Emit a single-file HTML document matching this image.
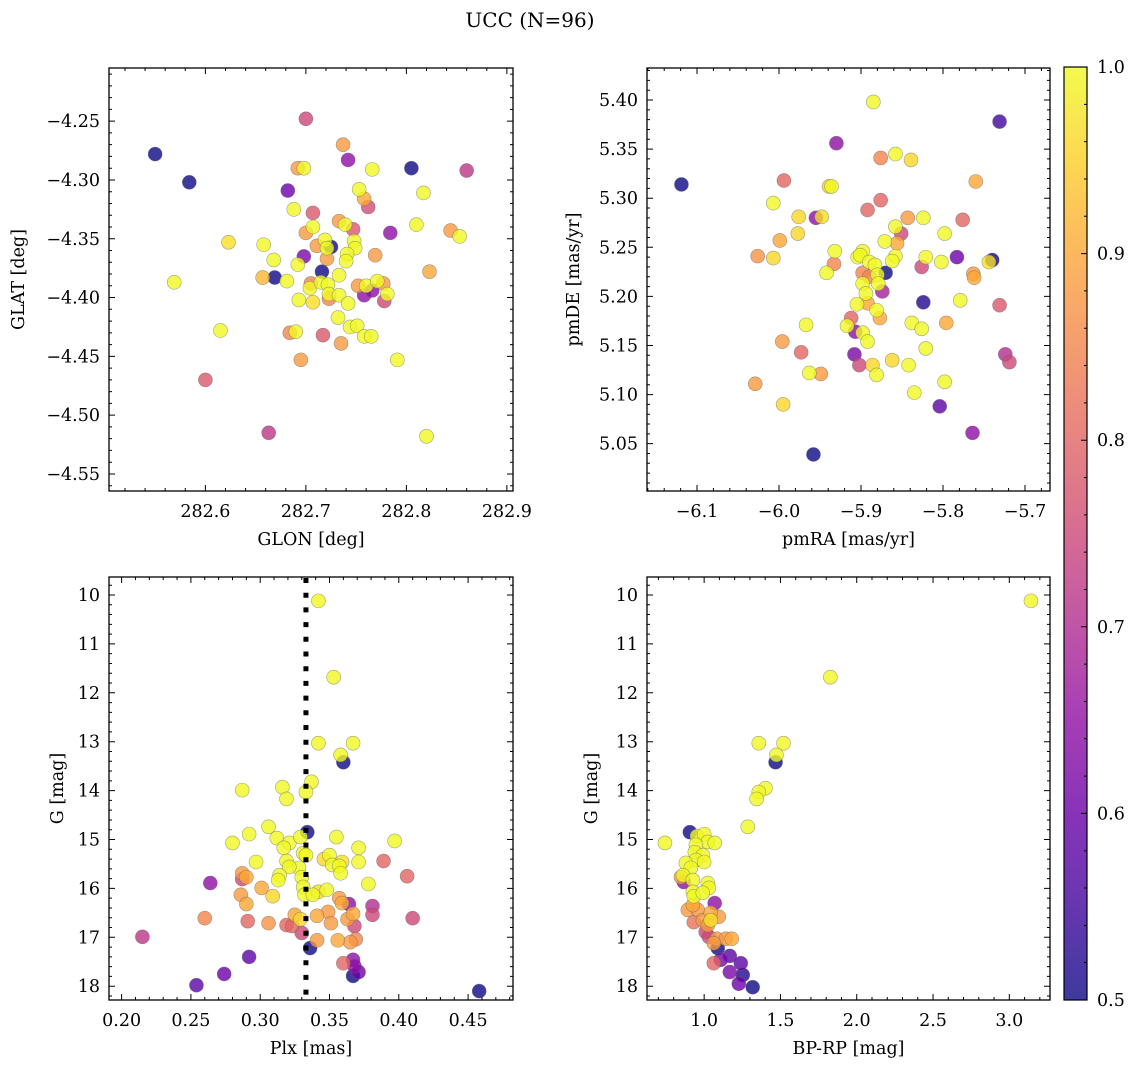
<!DOCTYPE html>
<html><head><meta charset="utf-8"><style>
body{margin:0;background:#fff;}
svg{display:block;font-family:"DejaVu Serif","Liberation Serif",serif;}
</style></head><body>
<svg id="fig" width="1136" height="1067" viewBox="0 0 1136 1067" xmlns="http://www.w3.org/2000/svg">
<text x="530" y="27" font-size="20" text-anchor="middle">UCC (N=96)</text>
</svg>
<script>
// Panel 1: GLON vs GLAT
const glon1=[282.550,282.584,282.569,282.615,282.600,282.623,282.658,282.657,282.669,282.668,282.663,282.682,282.692,282.698,282.700,282.742,282.737,282.766,282.805,282.817,282.688,282.707,282.733,282.739,282.747,282.753,282.758,282.762,282.707,282.700,282.784,282.810,282.711,282.719,282.721,282.725,282.721,282.748,282.749,282.741,282.740,282.769,282.698,282.692,282.716,282.681,282.733,282.705,282.704,282.715,282.722,282.723,282.733,282.742,282.693,282.707,282.723,282.752,282.760,282.758,282.766,282.771,282.777,282.781,282.778,282.823,282.732,282.744,282.751,282.758,282.765,282.684,282.690,282.717,282.735,282.695,282.791,282.844,282.853,282.860,282.820];
const glat1=[-4.278,-4.302,-4.387,-4.428,-4.470,-4.353,-4.355,-4.383,-4.383,-4.368,-4.515,-4.309,-4.290,-4.290,-4.248,-4.283,-4.270,-4.291,-4.290,-4.311,-4.325,-4.328,-4.335,-4.338,-4.342,-4.308,-4.316,-4.323,-4.340,-4.345,-4.345,-4.338,-4.356,-4.351,-4.358,-4.357,-4.367,-4.352,-4.358,-4.363,-4.369,-4.364,-4.365,-4.372,-4.378,-4.386,-4.381,-4.388,-4.392,-4.387,-4.389,-4.397,-4.398,-4.405,-4.402,-4.404,-4.401,-4.390,-4.390,-4.398,-4.394,-4.386,-4.388,-4.397,-4.403,-4.378,-4.417,-4.425,-4.424,-4.433,-4.433,-4.430,-4.429,-4.432,-4.439,-4.453,-4.453,-4.343,-4.348,-4.292,-4.518];
const prob1=[.5,.5,1,1,.78,.97,1,.92,.5,1,.72,.6,.88,1,.75,.65,.88,1,.5,1,1,.78,.88,1,.78,1,.9,.76,1,.88,.65,1,.88,1,1,.5,.88,1,1,1,1,.88,.62,1,.5,1,1,.85,1,1,1,1,1,1,1,.97,.85,.88,1,.65,.65,1,.88,1,.75,.9,1,1,1,1,1,.85,1,.78,.88,.88,1,.88,1,.72,1];
// Panel 2: pmRA vs pmDE
const pmra2=[-5.885,-5.731,-5.930,-5.876,-5.858,-5.839,-5.994,-5.760,-5.939,-5.936,-6.007,-5.876,-5.892,-5.976,-5.955,-5.948,-5.843,-5.824,-5.776,-5.977,-5.999,-5.858,-5.851,-5.798,-5.871,-5.856,-5.932,-6.026,-6.007,-5.898,-5.904,-5.901,-5.890,-5.883,-5.858,-5.862,-5.821,-5.826,-5.802,-5.783,-5.740,-5.744,-5.933,-5.942,-5.898,-5.890,-5.870,-5.880,-5.879,-5.898,-5.874,-5.763,-5.762,-5.894,-5.824,-5.779,-5.731,-5.905,-5.892,-5.881,-5.877,-5.912,-5.917,-5.907,-5.898,-5.892,-5.838,-5.826,-5.796,-5.967,-5.996,-5.973,-5.821,-5.908,-5.902,-5.886,-5.881,-5.862,-5.842,-5.724,-5.719,-5.963,-5.949,-6.029,-5.798,-5.835,-5.995,-5.804,-5.764,-5.958,-6.119];
const pmde2=[5.398,5.378,5.356,5.341,5.345,5.339,5.318,5.317,5.312,5.312,5.295,5.298,5.288,5.281,5.280,5.281,5.280,5.280,5.278,5.264,5.257,5.271,5.264,5.264,5.256,5.254,5.246,5.241,5.239,5.246,5.240,5.242,5.235,5.232,5.241,5.236,5.240,5.230,5.235,5.240,5.237,5.235,5.233,5.224,5.224,5.220,5.224,5.222,5.213,5.213,5.205,5.223,5.219,5.203,5.194,5.196,5.191,5.192,5.193,5.186,5.178,5.178,5.170,5.164,5.163,5.154,5.173,5.167,5.173,5.171,5.154,5.143,5.147,5.141,5.130,5.130,5.120,5.135,5.130,5.141,5.133,5.122,5.121,5.111,5.113,5.102,5.090,5.088,5.061,5.039,5.314];
const prob2=[1,.55,.65,.85,1,.96,.8,.9,.96,1,1,.8,.8,.96,.65,.97,.88,1,.8,.96,.9,1,.75,1,1,.9,1,.87,.96,1,1,1,1,1,1,1,1,.75,1,.6,.5,.97,.85,1,.85,.85,.5,1,1,1,.68,.88,.9,1,.52,1,.78,1,.9,1,.9,.8,1,.65,1,1,1,1,.9,1,.88,.8,1,.62,.75,.96,1,.96,1,.7,.75,1,.88,.88,1,1,.96,.58,.65,.5,.5];
// Panel 3: Plx vs G
const plx3=[.342,.353,.342,.367,.358,.360,.337,.287,.316,.319,.333,.334,.306,.292,.280,.312,.321,.317,.329,.331,.333,.355,.371,.397,.297,.319,.328,.321,.350,.346,.352,.359,.357,.358,.371,.389,.406,.287,.290,.287,.314,.313,.330,.331,.264,.378,.301,.286,.290,.309,.332,.338,.342,.348,.357,.359,.364,.381,.381,.410,.260,.291,.306,.319,.323,.325,.329,.341,.349,.351,.363,.367,.368,.330,.336,.341,.356,.365,.369,.292,.360,.367,.368,.371,.367,.274,.254,.215,.458];
const g3=[10.12,11.68,13.03,13.03,13.27,13.42,13.82,13.99,13.93,14.17,14.03,14.85,14.74,14.89,15.07,14.97,15.07,15.17,14.95,15.28,15.32,14.95,15.17,15.03,15.46,15.44,15.58,15.56,15.32,15.40,15.52,15.46,15.54,15.69,15.46,15.44,15.75,15.69,15.77,15.81,15.73,15.83,15.77,15.97,15.89,15.91,15.99,16.13,16.32,16.16,16.13,16.13,16.07,16.03,16.20,16.30,16.32,16.36,16.54,16.61,16.61,16.67,16.71,16.75,16.77,16.54,16.63,16.56,16.48,16.71,16.63,16.52,16.77,16.91,17.22,17.06,17.06,17.10,17.04,17.40,17.53,17.46,17.59,17.71,17.79,17.75,17.98,16.99,18.10];
const prob3=[1,1,1,1,1,.5,1,1,1,1,1,.5,1,1,1,1,1,1,1,1,1,1,1,1,1,1,1,1,1,.96,1,.97,1,1,1,.8,.8,.88,.9,.75,1,1,1,1,.65,1,.9,.88,.9,.96,1,1,.97,1,.88,.9,.65,.7,.75,.75,.85,.8,.87,.8,.8,.9,.96,.9,.88,.88,.88,.9,.75,.75,.5,.88,.9,.88,.85,.58,.8,.65,.65,.6,.5,.6,.58,.72,.5];
// Panel 4: BP-RP vs G
const bprp4=[3.142,1.827,1.358,1.520,1.474,1.468,1.402,1.358,1.344,1.286,.743,.906,.953,1.000,1.024,1.069,.946,.939,.991,.946,.880,1.000,.913,.861,.926,.848,.867,1.024,1.031,.926,.932,.991,1.069,.926,.893,.958,1.043,1.096,1.043,.932,.991,1.024,1.010,1.031,1.083,1.142,1.181,1.063,1.089,1.063,1.109,1.168,1.240,1.168,1.253,1.227,1.318];
const g4=[10.12,11.68,13.03,13.03,13.27,13.42,13.95,14.03,14.17,14.74,15.07,14.85,14.93,14.89,15.05,15.07,15.11,15.26,15.32,15.42,15.48,15.46,15.58,15.73,15.83,15.77,15.87,15.89,15.99,16.07,16.16,16.09,16.30,16.34,16.44,16.44,16.50,16.58,16.65,16.69,16.65,16.75,16.89,16.99,17.03,17.03,17.03,17.12,17.22,17.53,17.46,17.38,17.53,17.71,17.77,17.95,18.02];
const prob4=[1,1,1,1,1,.5,1,1,1,1,1,.5,1,1,1,1,1,1,1,1,1,1,1,1,1,.88,.65,1,1,1,1,1,.65,.9,.88,.88,.9,.88,.97,.82,.88,.88,.75,.75,.88,.88,.9,.88,.5,.8,.62,.58,.58,.62,.52,.6,.5];
// Tick arrays
const xt1=[282.6,282.7,282.8,282.9], yt1=[-4.25,-4.30,-4.35,-4.40,-4.45,-4.50,-4.55];
const xt2=[-6.1,-6.0,-5.9,-5.8,-5.7], yt2=[5.40,5.35,5.30,5.25,5.20,5.15,5.10,5.05];
const xt3=[0.20,0.25,0.30,0.35,0.40,0.45], yt34=[10,11,12,13,14,15,16,17,18];
const xt4=[1.0,1.5,2.0,2.5,3.0];
const cbt=[0.5,0.6,0.7,0.8,0.9,1.0];
const plxLine=0.333;

const NS='http://www.w3.org/2000/svg';
const svg=document.getElementById('fig');
function mk(tag,attrs,parent){const e=document.createElementNS(NS,tag);for(const k in attrs)e.setAttribute(k,attrs[k]);(parent||svg).appendChild(e);return e;}
const plasma=[[13,8,135],[65,4,157],[106,0,168],[143,13,164],[177,42,144],[204,71,120],[225,100,98],[242,132,75],[252,166,54],[252,206,37],[240,249,33]];
function cmap(t){t=Math.max(0,Math.min(1,t))*10;const i=Math.min(9,Math.floor(t)),f=t-i;const a=plasma[i],b=plasma[i+1];return 'rgb('+[0,1,2].map(k=>Math.round(a[k]+(b[k]-a[k])*f)).join(',')+')';}
function pc(p){return cmap((p-0.5)/0.5);}
const FS=17.5;

function panel(cfg){
  const {L,T,R,B,x0,x1,y0,y1,inv,name}=cfg;
  const g=mk('g',{});
  
  
  const sx=v=>L+(v-x0)/(x1-x0)*(R-L);
  const sy=inv?(v=>T+(v-y0)/(y1-y0)*(B-T)):(v=>B-(v-y0)/(y1-y0)*(B-T));
  const idx=cfg.xs.map((_,i)=>i).sort((a,b)=>cfg.ps[a]-cfg.ps[b]);
  const pg=mk('g',{},g);
  
  
  idx.forEach(i=>{
    const c=mk('circle',{cx:sx(cfg.xs[i]),cy:sy(cfg.ys[i]),r:7,fill:pc(cfg.ps[i]),'fill-opacity':0.8,stroke:'#666','stroke-opacity':0.6,'stroke-width':0.6},pg);
    
    
  });
  if(cfg.vline!==undefined){
    const l=mk('line',{x1:sx(cfg.vline),x2:sx(cfg.vline),y1:T+1,y2:B,stroke:'#000','stroke-width':5,'stroke-dasharray':'5 9.7'},g);
    
    
  }
  const fr=mk('rect',{x:L,y:T,width:R-L,height:B-T,fill:'none',stroke:'#000','stroke-width':1.3},g);
  
  
  let d='';
  const xmin=cfg.xminor, ymin=cfg.yminor;
  for(let v=Math.ceil(Math.min(x0,x1)/xmin)*xmin;v<=Math.max(x0,x1)+1e-9;v+=xmin){const px=sx(v);const maj=cfg.xt.some(t=>Math.abs(t-v)<xmin/3);const len=maj?6:3;d+=`M${px},${B}v${-len}M${px},${T}v${len}`;}
  for(let v=Math.ceil(Math.min(y0,y1)/ymin)*ymin;v<=Math.max(y0,y1)+1e-9;v+=ymin){const py=sy(v);const maj=cfg.yt.some(t=>Math.abs(t-v)<ymin/3);const len=maj?6:3;d+=`M${L},${py}h${len}M${R},${py}h${-len}`;}
  mk('path',{d:d,stroke:'#000','stroke-width':1,fill:'none'},g);
  cfg.xt.forEach(v=>{const t=mk('text',{x:sx(v),y:B+26,'font-size':FS,'text-anchor':'middle'},g);t.textContent=cfg.xf(v).replace('-','\u2212');
    
    });
  cfg.yt.forEach(v=>{const t=mk('text',{x:L-9,y:sy(v)+6,'font-size':FS,'text-anchor':'end'},g);t.textContent=cfg.yf(v).replace('-','\u2212');
    
    });
  const xl=mk('text',{x:(L+R)/2,y:B+54,'font-size':FS,'text-anchor':'middle'},g);xl.textContent=cfg.xlab;
  
  
  const yl=mk('text',{x:0,y:0,'font-size':FS,'text-anchor':'middle',transform:`translate(${cfg.ylx},${(T+B)/2}) rotate(-90)`},g);yl.textContent=cfg.ylab;
  
  
}
panel({name:'glon-glat-panel',L:109,T:68,R:513,B:491,x0:282.5041,x1:282.9061,y0:-4.2048,y1:-4.5645,inv:true,xs:glon1,ys:glat1,ps:prob1,xt:xt1,yt:yt1,xminor:0.02,yminor:0.01,xf:v=>v.toFixed(1),yf:v=>v.toFixed(2),xlab:'GLON [deg]',ylab:'GLAT [deg]',ylx:24});
panel({name:'pm-panel',L:647,T:68,R:1050,B:491,x0:-6.161,x1:-5.6695,y0:5.0018,y1:5.4326,inv:false,xs:pmra2,ys:pmde2,ps:prob2,xt:xt2,yt:yt2,xminor:0.02,yminor:0.01,xf:v=>v.toFixed(1),yf:v=>v.toFixed(2),xlab:'pmRA [mas/yr]',ylab:'pmDE [mas/yr]',ylx:579});
panel({name:'plx-g-panel',L:109,T:577,R:513,B:1000,x0:0.1909,x1:0.4824,y0:9.632,y1:18.282,inv:true,xs:plx3,ys:g3,ps:prob3,xt:xt3,yt:yt34,xminor:0.01,yminor:0.2,xf:v=>v.toFixed(2),yf:v=>String(v),xlab:'Plx [mas]',ylab:'G [mag]',ylx:63,vline:plxLine});
panel({name:'cmd-panel',L:647,T:577,R:1050,B:1000,x0:0.6254,x1:3.2667,y0:9.632,y1:18.282,inv:true,xs:bprp4,ys:g4,ps:prob4,xt:xt4,yt:yt34,xminor:0.1,yminor:0.2,xf:v=>v.toFixed(1),yf:v=>String(v),xlab:'BP-RP [mag]',ylab:'G [mag]',ylx:597});

// Colorbar
const cb=mk('g',{});


const defs=mk('defs',{},cb);
const lg=mk('linearGradient',{id:'cbg',x1:0,y1:1,x2:0,y2:0},defs);
for(let i=0;i<=20;i++){mk('stop',{offset:i/20,'stop-color':cmap(i/20),'stop-opacity':0.8},lg);}
const CL=1064,CR=1087,CT=67,CB=1000;
mk('rect',{x:CL,y:CT,width:CR-CL,height:CB-CT,fill:'url(#cbg)',stroke:'#000','stroke-width':1.2},cb);
let cd='';
for(let v=0.5;v<=1.0001;v+=0.02){const py=CB-(v-0.5)/0.5*(CB-CT);const maj=cbt.some(t=>Math.abs(t-v)<0.005);cd+=`M${CR},${py}h${maj?-6:-3}`;}
mk('path',{d:cd,stroke:'#000','stroke-width':1},cb);
cbt.forEach(v=>{const py=CB-(v-0.5)/0.5*(CB-CT);const t=mk('text',{x:CR+10,y:py+6,'font-size':FS},cb);t.textContent=v.toFixed(1);
  
  });
</script>
</body></html>
